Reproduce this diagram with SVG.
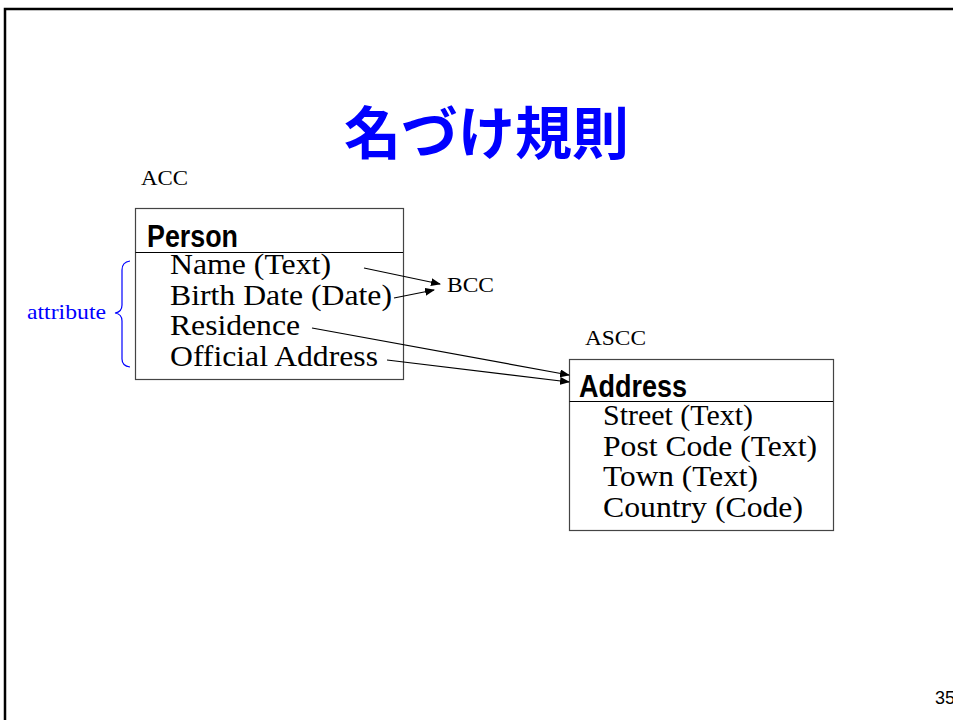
<svg xmlns="http://www.w3.org/2000/svg" width="953" height="720" viewBox="0 0 953 720">
<defs>
<marker id="ah" markerWidth="10" markerHeight="8" refX="9" refY="4" orient="auto" markerUnits="userSpaceOnUse">
<path d="M0,0 L10,4 L0,8 Z" fill="#000"/>
</marker>
<style>
.frame{fill:none;stroke:#000;stroke-width:2.5}
.title{font-family:"Noto Sans CJK JP","Noto Sans CJK SC",sans-serif;font-weight:700;font-size:57px;fill:#0000ff}
.lbl{font-family:"Liberation Serif",serif;font-size:22px;fill:#000}
.box{fill:#fff;stroke:#444;stroke-width:1.2}
.div{stroke:#000;stroke-width:1.2}
.hdr{font-family:"Liberation Sans",sans-serif;font-weight:700;font-size:31px;fill:#000}
.row{font-family:"Liberation Serif",serif;font-size:29px;fill:#000}
.conn{fill:none;stroke:#000;stroke-width:1.2;marker-end:url(#ah)}
.blue{font-family:"Liberation Serif",serif;font-size:22px;fill:#0000ff}
.num{font-family:"Liberation Sans",sans-serif;font-size:18px;fill:#000}
</style>
</defs>
<rect width="953" height="720" fill="#fff"/>
<rect class="frame" x="5" y="9" width="1000" height="1000"/>
<text class="title" x="486.5" y="154" text-anchor="middle">名づけ規則</text>

<g id="label-acc"><text class="lbl" x="141" y="185" textLength="47" lengthAdjust="spacingAndGlyphs">ACC</text></g>
<g id="label-bcc"><text class="lbl" x="447" y="292" textLength="47" lengthAdjust="spacingAndGlyphs">BCC</text></g>
<g id="label-ascc"><text class="lbl" x="585" y="345" textLength="61" lengthAdjust="spacingAndGlyphs">ASCC</text></g>

<g id="person">
<rect class="box" x="135.5" y="208.5" width="268" height="171"/>
<line class="div" x1="135.5" y1="252.5" x2="403" y2="252.5"/>
<text class="hdr" x="147" y="247" textLength="91" lengthAdjust="spacingAndGlyphs">Person</text>
<text class="row" x="170" y="274" textLength="161" lengthAdjust="spacingAndGlyphs">Name (Text)</text>
<text class="row" x="170" y="304.5" textLength="222" lengthAdjust="spacingAndGlyphs">Birth Date (Date)</text>
<text class="row" x="170" y="335" textLength="130" lengthAdjust="spacingAndGlyphs">Residence</text>
<text class="row" x="170" y="365.5" textLength="208" lengthAdjust="spacingAndGlyphs">Official Address</text>
</g>

<g id="address">
<rect class="box" x="569.5" y="359.5" width="264" height="171"/>
<line class="div" x1="569.5" y1="401.5" x2="833" y2="401.5"/>
<text class="hdr" x="579" y="397" textLength="108" lengthAdjust="spacingAndGlyphs">Address</text>
<text class="row" x="603" y="425" textLength="150" lengthAdjust="spacingAndGlyphs">Street (Text)</text>
<text class="row" x="603" y="455.5" textLength="214" lengthAdjust="spacingAndGlyphs">Post Code (Text)</text>
<text class="row" x="603" y="486" textLength="155" lengthAdjust="spacingAndGlyphs">Town (Text)</text>
<text class="row" x="603" y="516.5" textLength="200" lengthAdjust="spacingAndGlyphs">Country (Code)</text>
</g>

<g id="attribute">
<text class="blue" x="27" y="319" textLength="79" lengthAdjust="spacingAndGlyphs">attribute</text>
<path d="M130,261 Q122,262 122,270 L122,305 Q122,312 115,313 Q122,314 122,321 L122,359 Q122,366 130,367" fill="none" stroke="#0000ff" stroke-width="1.2"/>
</g>

<g id="connectors">
<line class="conn" x1="364" y1="268" x2="440" y2="284"/>
<line class="conn" x1="394" y1="298" x2="434" y2="290"/>
<line class="conn" x1="312" y1="328" x2="569" y2="375"/>
<line class="conn" x1="387" y1="360" x2="569" y2="382"/>
</g>

<text class="num" x="935" y="704">35</text>
</svg>
